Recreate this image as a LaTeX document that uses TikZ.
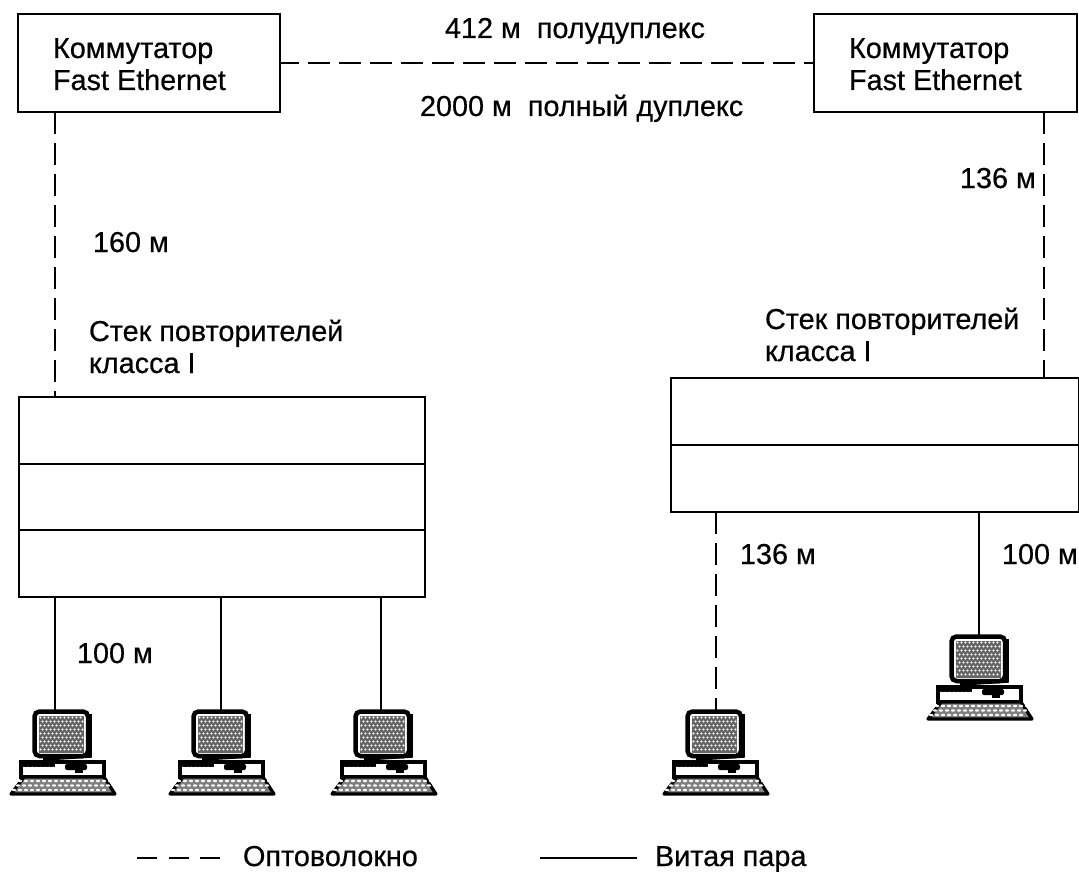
\documentclass[tikz,border=0pt]{standalone}
\usepackage{fontspec}
\setmainfont[FakeBold=0.5]{Liberation Sans}
\begin{document}
\begin{tikzpicture}[x=1pt,y=-1pt,
 every node/.style={inner sep=0pt,outer sep=0pt},
 box/.style={draw=black,line width=2.5pt,fill=white,anchor=north west},
 lbl/.style={font=\fontsize{28.8}{32}\selectfont,anchor=base west,align=left,text=black},
 fiber/.style={draw=black,line width=2.5pt,dash pattern=on 22pt off 9pt},
 tp/.style={draw=black,line width=2.4pt},
 pc/.pic={
  % monitor
  \draw[line width=4.5pt,fill=white,rounded corners=5pt] (1.5,1.5) rectangle (55,46);
  \fill[black!60] (6,6) rectangle (51,43);
  \foreach \r in {0,...,8}{\foreach \c in {0,...,10}{
    \fill[white] ({7.5+4*\c+(mod(\r,2))*2},{7.5+4*\r}) circle (1.05pt);}}
  \draw[line width=3.6pt] (57,4) -- (57,46) -- (10,49);
  % base
  \draw[line width=3.2pt,fill=white] (-12,52) rectangle (71,67);
  \fill (-12,51) rectangle (22,57);
  \foreach \c in {0,...,7}{\fill[white] ({-9+4.2*\c},57.5) circle (1pt);}
  \fill[rounded corners=2pt] (32,54) rectangle (54,60);
  \fill (42,58) rectangle (50,63);
  % keyboard
  \draw[line width=3.2pt,fill=black!50,line join=round] (-9,67) -- (71,67) -- (82,84) -- (-22,84) -- cycle;
  \foreach \r in {0,1,2}{\foreach \c in {0,...,15}{
    \fill[white] ({-13+6*\c-\r*3+(mod(\r,2))*1},{71+\r*4.5}) ellipse (2.1pt and 1.2pt);}}
 }]
\useasboundingbox (0,0) rectangle (1079,872);
\fill[white] (0,0) rectangle (1079,872);

% switches
\node[box,minimum width=262pt,minimum height=98pt] (swa) at (18,14) {};
\node[box,minimum width=263pt,minimum height=98pt] (swb) at (814,14) {};
\node[lbl] (swal) at (53,90) {Коммутатор\\Fast Ethernet};
\node[lbl] (swbl) at (849,90) {Коммутатор\\Fast Ethernet};

% stacks
\node[box,minimum width=406pt,minimum height=67pt] (sa1) at (19,397) {};
\node[box,minimum width=406pt,minimum height=66pt] (sa2) at (19,464) {};
\node[box,minimum width=406pt,minimum height=67pt] (sa3) at (19,530) {};
\node[box,minimum width=408pt,minimum height=67pt] (sb1) at (671,378) {};
\node[box,minimum width=408pt,minimum height=67pt] (sb2) at (671,445) {};

% computers
\pic at (33,710) {pc};
\pic at (192,710) {pc};
\pic at (354,710) {pc};
\pic at (686,710) {pc};
\pic at (950,635) {pc};
\coordinate (pa) at (55,711);
\coordinate (pb) at (221,711);
\coordinate (pc) at (381,711);
\coordinate (pd) at (716,711);
\coordinate (pe) at (979,636);
\coordinate (upb) at (1044,112);

% connectors
\draw[fiber,dash phase=3pt] (swa.east) -- (swb.west);
\draw[fiber] (swa.south -| pa) -- (sa1.north -| pa);
\draw[fiber] (swb.south -| upb) -- (sb1.north -| upb);
\draw[tp] (sa3.south -| pa) -- (pa);
\draw[tp] (sa3.south -| pb) -- (pb);
\draw[tp] (sa3.south -| pc) -- (pc);
\draw[fiber] (sb2.south -| pd) -- (pd);
\draw[tp] (sb2.south -| pe) -- (pe);

% labels
\node[lbl] (t1) at (445,38) {412 м\ \ полудуплекс};
\node[lbl] (t2) at (420,116) {2000 м\ \ полный дуплекс};
\node[lbl] (t3) at (960,188) {136 м};
\node[lbl] (t4) at (93,252) {160 м};
\node[lbl] (t5) at (89,373) {Стек повторителей\\класса I};
\node[lbl] (t6) at (765,361) {Стек повторителей\\класса I};
\node[lbl] (t7) at (740,564) {136 м};
\node[lbl] (t8) at (1002,564) {100 м};
\node[lbl] (t9) at (77,663) {100 м};

% legend
\coordinate (la) at (137,858);
\coordinate (lb) at (220,858);
\coordinate (lc) at (540,858);
\coordinate (ld) at (637,858);
\draw[fiber,dash pattern=on 20pt off 11.5pt] (la) -- (lb);
\draw[tp] (lc) -- (ld);
\node[lbl] (t10) at (243,866) {Оптоволокно};
\node[lbl] (t11) at (655,866) {Витая пара};
\end{tikzpicture}
\end{document}
